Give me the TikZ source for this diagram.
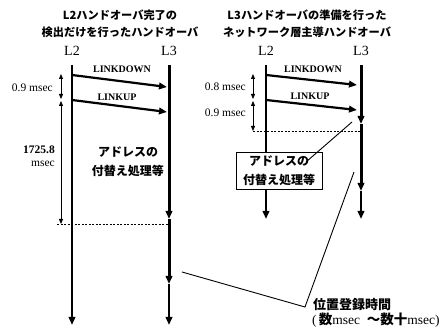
\documentclass[tikz,border=0pt]{standalone}
\usepackage{fontspec}
\setmainfont{Liberation Serif}
\newfontfamily\jp{Noto Sans CJK JP}
\usetikzlibrary{arrows.meta}
\begin{document}
\begin{tikzpicture}[x=1pt,y=-1pt,
  tip/.style={-{Triangle[length=8pt,width=6.5pt]}},
  dimtip/.style={{Triangle[length=5pt,width=4pt]}-{Triangle[length=5pt,width=4pt]}},
  lline/.style={line width=2pt,tip},
  thickline/.style={line width=3pt,tip},
  msgline/.style={line width=2.2pt,tip},
  dimline/.style={line width=0.8pt,dimtip},
  dashline/.style={line width=0.7pt,dash pattern=on 2pt off 1.5pt},
  leader/.style={line width=0.9pt},
  title/.style={font=\jp\bfseries\fontsize{11.2}{17}\selectfont,align=center},
  hdr/.style={font=\fontsize{14}{15}\selectfont},
  msg/.style={font=\bfseries\fontsize{10}{11}\selectfont},
  dimlbl/.style={font=\fontsize{11.5}{12}\selectfont,anchor=east},
  jptext/.style={font=\jp\bfseries\fontsize{12}{19}\selectfont,align=center},
  inner sep=1pt]
\useasboundingbox (0,0) rectangle (448,328);
% titles
\node[title] (t1) at (120,23.5) {L2ハンドオーバ完了の\\検出だけを行ったハンドオーバ};
\node[title] (t2) at (307,23.5) {L3ハンドオーバの準備を行った\\ネットワーク層主導ハンドオーバ};
% headers
\node[hdr] (h1) at (72,51) {L2};
\node[hdr] (h2) at (169,51) {L3};
\node[hdr] (h3) at (266,51) {L2};
\node[hdr] (h4) at (361,51) {L3};
% left diagram lines
\coordinate (aL2t) at (72,65);
\coordinate (aL2b) at (72,325);
\coordinate (aL3t) at (169,65);
\coordinate (aL3m1) at (169,219);
\coordinate (aL3m2) at (169,284);
\coordinate (aL3b) at (169,325);
\draw[lline] (aL2t) -- (aL2b);
\draw[thickline] (aL3t) -- (aL3m1);
\draw[thickline] (aL3m1) -- (aL3m2);
\draw[lline] (aL3m2) -- (aL3b);
% left messages
\coordinate (aD1) at (72,75);
\coordinate (aD2) at (167,87);
\coordinate (aU1) at (72,100);
\coordinate (aU2) at (167,112);
\draw[msgline] (aD1) -- (aD2);
\draw[msgline] (aU1) -- (aU2);
\node[msg] (aDl) at (122,69) {LINKDOWN};
\node[msg] (aUl) at (117,97) {LINKUP};
% left dims
\coordinate (aq1) at (61,74);
\coordinate (aq2) at (61,99);
\coordinate (aq3) at (61,101);
\coordinate (aq4) at (61,224);
\draw[dimline] (aq1) -- (aq2);
\draw[dimline] (aq3) -- (aq4);
\node[dimlbl] (adl1) at (54,88) {0.9 msec};
\node[dimlbl,font=\bfseries\fontsize{11.5}{12}\selectfont] (adl2) at (56,150) {1725.8};
\node[dimlbl] (adl3) at (56,164) {msec};
\coordinate (adsh1) at (57,224);
\coordinate (adsh2) at (169,224);
\draw[dashline] (adsh1) -- (adsh2);
\node[jptext] (aproc) at (128,162) {アドレスの\\付替え処理等};
% right diagram lines
\coordinate (bL2t) at (266,65);
\coordinate (bL2b) at (266,219);
\coordinate (bL3t) at (361,65);
\coordinate (bL3m1) at (361,124);
\coordinate (bL3m2) at (361,191);
\coordinate (bL3b) at (361,219);
\draw[lline] (bL2t) -- (bL2b);
\draw[thickline] (bL3t) -- (bL3m1);
\draw[thickline] (bL3m1) -- (bL3m2);
\draw[lline] (bL3m2) -- (bL3b);
% right messages
\coordinate (bD1) at (266,75);
\coordinate (bD2) at (357,85);
\coordinate (bU1) at (266,100);
\coordinate (bU2) at (357,110);
\draw[msgline] (bD1) -- (bD2);
\draw[msgline] (bU1) -- (bU2);
\node[msg] (bDl) at (313,69) {LINKDOWN};
\node[msg] (bUl) at (310,96) {LINKUP};
% right dims
\coordinate (bq1) at (253,74);
\coordinate (bq2) at (253,99);
\coordinate (bq3) at (253,101);
\coordinate (bq4) at (253,131);
\draw[dimline] (bq1) -- (bq2);
\draw[dimline] (bq3) -- (bq4);
\node[dimlbl] (bdl1) at (247,87) {0.8 msec};
\node[dimlbl] (bdl2) at (247,113) {0.9 msec};
\coordinate (bdsh1) at (253,131);
\coordinate (bdsh2) at (361,131);
\draw[dashline] (bdsh1) -- (bdsh2);
\node[jptext,draw,line width=0.8pt,fill=white,minimum width=86pt,minimum height=37pt,inner sep=0pt] (bproc) at (279,170.5) {アドレスの\\付替え処理等};
\coordinate (bl1) at (306,162);
\coordinate (bl2) at (352,122);
\draw[leader] (bl1) -- (bl2);
% registration time leader
\coordinate (r1) at (182,272);
\coordinate (r2) at (305,307);
\coordinate (r3) at (354,172);
\draw[leader] (r1) -- (r2) -- (r3);
\node[anchor=north west,inner sep=0pt,font=\jp\bfseries\fontsize{13}{15}\selectfont] (reg1) at (313,298) {位置登録時間};
\node[anchor=north west,inner sep=0pt,font=\fontsize{13.5}{15}\selectfont] (reg2) at (312,313) {(\,{\jp\bfseries 数}msec\ \ {\jp\bfseries ～数十}msec)};
\end{tikzpicture}
\end{document}
